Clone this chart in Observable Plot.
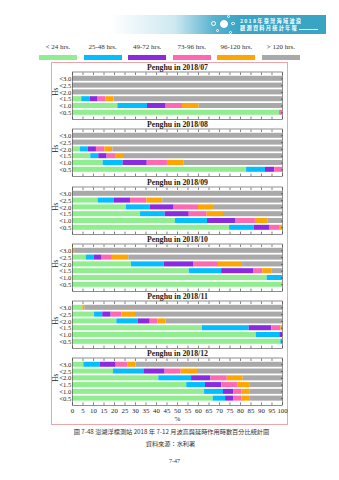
<!DOCTYPE html>
<html><head><meta charset="utf-8">
<script src="https://cdn.jsdelivr.net/npm/d3@7"></script>
<script src="https://cdn.jsdelivr.net/npm/@observablehq/plot@0.6"></script>
<style>
html,body{margin:0;padding:0;background:#fff;}
body{width:339px;height:480px;position:relative;overflow:hidden;font-family:"Liberation Serif",serif;color:#222;}
#banner{position:absolute;left:110px;top:15px;width:216px;height:19px;
  background:linear-gradient(to right, rgba(59,165,198,0) 0%, rgba(59,165,198,0.25) 30%, rgba(59,165,198,0.85) 48%, #3aa4c5 60%, #3aa4c5 100%);}
#banner .t{position:absolute;left:130px;top:1.9px;color:#fff;font-family:"Noto Sans CJK TC",sans-serif;font-size:5.2px;letter-spacing:1.25px;font-weight:bold;line-height:7.6px;white-space:nowrap;}
#banner .u{position:absolute;left:189px;top:14px;width:19px;height:0.6px;background:#fff;}
.c{position:absolute;border-radius:50%;border:0.7px solid #fff;box-sizing:border-box;}
#legend{position:absolute;left:35.7px;top:43px;display:flex;}
#legend .cell{width:44.6px;display:flex;flex-direction:column;align-items:center;}
#legend .lab{font-size:7px;line-height:9px;white-space:nowrap;color:#333;}
#legend .sw{width:38px;height:5.4px;margin-top:3px;}
#frame{position:absolute;left:51px;top:62px;width:235px;height:360.8px;border:1px solid #eaa6a8;}
#frame svg{display:block;}
.cap{position:absolute;left:0;width:339px;text-align:center;font-family:"Noto Sans CJK TC",sans-serif;color:#333;white-space:nowrap;}
</style></head>
<body>
<div id="banner">
  <div class="t">2018年臺灣海域波浪<br>觀測資料月統計年報</div>
  <div class="u"></div>
  <div class="c" style="left:101px;top:5.5px;width:5px;height:5px;"></div>
  <div class="c" style="left:110px;top:5px;width:8px;height:8px;background:#fff;"></div>
  <div class="c" style="left:117px;top:-0.5px;width:3px;height:3px;"></div>
  <div class="c" style="left:121px;top:6.5px;width:3.5px;height:3.5px;"></div>
  <div class="c" style="left:106px;top:14px;width:3px;height:3px;"></div>
  <div class="c" style="left:118.5px;top:15.5px;width:3px;height:3px;"></div>
</div>
<div id="legend"></div>
<div id="frame"></div>
<div class="cap" style="top:426.5px;font-size:6.2px;left:2px;">圖 7-48 澎湖浮標測站 2018 年 7-12 月波高與延時作用時數百分比統計圖</div>
<div class="cap" style="top:438.5px;font-size:6.2px;left:1px;">資料來源：水利署</div>
<div class="cap" style="top:457.5px;font-size:6px;font-family:'Liberation Serif',serif;left:5px;">7-47</div>
<script>
const months = ["2018/07","2018/08","2018/09","2018/10","2018/11","2018/12"];
const hsLevels = ["<3.0","<2.5","<2.0","<1.5","<1.0","<0.5"];
const durations = ["< 24 hrs.","25-48 hrs.","49-72 hrs.","73-96 hrs.","96-120 hrs.","> 120 hrs."];
const xTicks = [0,5,10,15,20,25,30,35,40,45,50,55,60,65,70,75,80,85,90,95,100];

// percentage of time per Hs level (rows top to bottom), columns follow durations
const jul = [
  [0,0,0,0,0,100],
  [0,0,0,0,0,100],
  [0,0,0,0,0,100],
  [4.4,4,3.8,3.8,3.8,80.2],
  [21.6,14.1,8.9,7.8,7.9,39.7],
  [98.6,0,0,1.4,0,0]
];
const aug = [
  [0,0,0,0,0,100],
  [0,0,0,0,0,100],
  [3.7,3.8,3.9,4,3.8,80.8],
  [8.7,3.8,4,4,3.8,75.7],
  [14.6,9.5,11.5,9.6,7.8,47],
  [82.9,9,4.4,3.7,0,0]
];
const sep = [
  [0,0,0,0,0,100],
  [12.2,7.8,7.6,7.8,7.6,57],
  [25.6,11.4,11.4,11.6,7.6,32.4],
  [32.4,11.7,11.5,8.5,7.8,28.1],
  [49,15.3,13.6,9.2,5.9,7],
  [74.8,11.7,7.6,4.5,1.4,0]
];
const oct = [
  [0,0,0,0,1,99],
  [6.5,3.8,3.8,4.9,7.8,73.2],
  [28.1,15.6,14.2,11.6,11.5,19],
  [55.6,15.4,15.2,4.4,4.3,5.1],
  [92.7,7.3,0,0,0,0],
  [100,0,0,0,0,0]
];
const nov = [
  [4.9,0,0,0,1,94.1],
  [10.5,3.9,4,5.1,6.5,70],
  [21.1,10.2,5.7,3.8,3.8,55.4],
  [61.9,22.2,10.8,4.3,0.8,0],
  [87.5,11.2,1.3,0,0,0],
  [99.2,0.8,0,0,0,0]
];
const dec = [
  [5.4,7.8,7.6,5.5,4,69.7],
  [19.5,14.5,10.1,7.6,7.8,40.5],
  [41.1,15.6,9.2,7.8,7.6,18.7],
  [54.4,8.9,7.8,7.8,5.5,15.6],
  [62.9,9,4.8,3.9,3.8,15.6],
  [67,5.9,3.8,3.9,3.8,15.6]
];
const monthly = [jul, aug, sep, oct, nov, dec];

const palette = ["#90ee90","#00bfff","#8a2be2","#ff69b4","#ffa500","#a9a9a9"];

// legend
const legend = document.getElementById("legend");
durations.forEach((d, i) => {
  const cell = document.createElement("div");
  cell.className = "cell";
  cell.innerHTML = `<div class="lab">${d.replace("<","&lt;").replace(">","&gt;")}</div><div class="sw" style="background:${palette[i]}"></div>`;
  legend.appendChild(cell);
});

const axisStroke = {stroke: "#333", strokeWidth: 0.6};

function panel(month, rows, last) {
  const data = [];
  rows.forEach((r, i) => r.forEach((v, j) => data.push({hs: hsLevels[i], dur: durations[j], value: v})));
  return Plot.plot({
    width: 235,
    height: last ? 74.3 : 57.3,
    marginLeft: 20, marginRight: 5, marginTop: 8.5, marginBottom: last ? 18.4 : 1.2,
    style: {fontFamily: "'Liberation Serif', serif", fontSize: "6.6px", color: "#222", background: "transparent", overflow: "visible"},
    x: {domain: [0, 100]},
    y: {domain: hsLevels, paddingInner: 0.26, paddingOuter: 0.63, round: false},
    color: {domain: durations, range: palette},
    marks: [
      Plot.axisX({anchor: "bottom", ticks: xTicks, tickSize: -2.5, tickFormat: () => "", label: null, ...axisStroke}),
      Plot.axisX({anchor: "top", ticks: xTicks, tickSize: -2.5, tickFormat: () => "", label: null, ...axisStroke}),
      Plot.axisY({anchor: "left", tickSize: -2, tickFormat: () => "", label: null, ...axisStroke}),
      Plot.barX(data, {x: "value", y: "hs", fill: "dur"}),
      Plot.axisY({anchor: "right", tickSize: -2, tickFormat: () => "", label: null, ...axisStroke}),
      Plot.axisY({anchor: "left", tickSize: 0, tickPadding: 1.2, label: null, fontSize: 6.6}),
      Plot.text(["Hs"], {text: d => d, frameAnchor: "left", dx: -16.5, rotate: -90, fontSize: 7.2, lineAnchor: "middle"}),
      last ? Plot.axisX({anchor: "bottom", ticks: xTicks, tickSize: 0, tickPadding: 2.5, label: null, fontSize: 6.8}) : null,
      last ? Plot.text(["%"], {text: d => d, frameAnchor: "bottom", dy: 13.5, fontSize: 7, lineAnchor: "middle"}) : null,
      Plot.frame({stroke: "#444", strokeWidth: 0.6}),
      Plot.text([`Penghu in ${month}`], {text: d => d, frameAnchor: "top", dy: -4.3, fontWeight: "bold", fontSize: 7.8, lineAnchor: "middle"})
    ]
  });
}

const frame = document.getElementById("frame");
months.forEach((m, k) => frame.appendChild(panel(m, monthly[k], k === months.length - 1)));
</script>
</body></html>
